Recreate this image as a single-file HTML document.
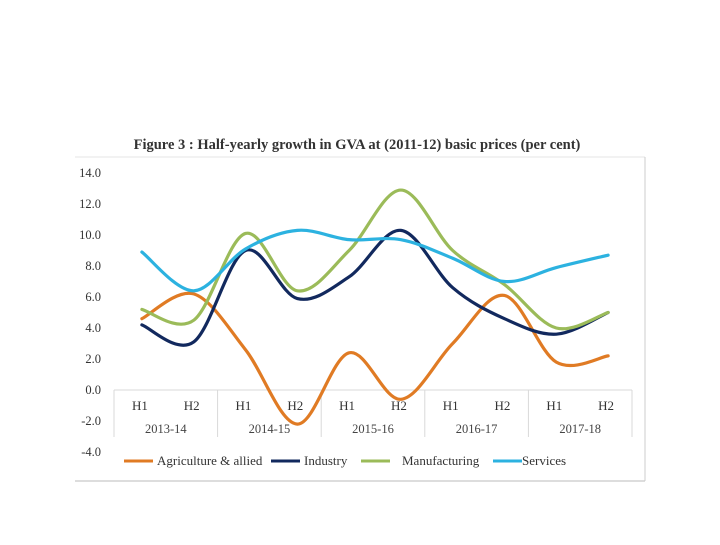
<!DOCTYPE html>
<html><head><meta charset="utf-8"><style>
body{margin:0;background:#fff;width:720px;height:540px;overflow:hidden}
svg{font-family:"Liberation Serif",serif}
</style></head><body>
<svg width="720" height="540">
<text x="357" y="149" text-anchor="middle" font-size="14.5" font-weight="bold" fill="#333">Figure 3 : Half-yearly growth in GVA at (2011-12) basic prices (per cent)</text>
<line x1="75" y1="157" x2="645" y2="157" stroke="#e4e4e4"/>
<line x1="75" y1="481" x2="645" y2="481" stroke="#bbb"/>
<line x1="645" y1="157" x2="645" y2="481" stroke="#ccc"/>
<g id="axes"></g><g id="series"></g><g id="legend"></g>
</svg>
<script>
const years=["2013-14","2014-15","2015-16","2016-17","2017-18"];
const halves=["H1","H2"];
const yTicks=[14,12,10,8,6,4,2,0,-2,-4];
const agri=[4.6,6.2,2.6,-2.2,2.4,-0.6,3.0,6.1,1.8,2.2];
const industry=[4.2,3.1,9.0,5.9,7.3,10.3,6.6,4.6,3.6,5.0];
const manuf=[5.2,4.5,10.1,6.4,9.0,12.9,9.0,6.8,4.0,5.0];
const services=[8.9,6.4,9.1,10.3,9.7,9.7,8.5,7.0,7.9,8.7];
const seriesNames=["Agriculture & allied","Industry","Manufacturing","Services"];
const ns="http://www.w3.org/2000/svg";
const y=v=>390-v*15.5;
const x0=114,cw=51.8;
const x=i=>x0+cw*(i+0.5)+2;
function mk(t,a,p){const e=document.createElementNS(ns,t);for(const k in a)e.setAttribute(k,a[k]);p.appendChild(e);return e;}
const ax=document.getElementById('axes');
yTicks.forEach(v=>{const t=mk('text',{x:101,y:y(v)+4,'text-anchor':'end','font-size':12.5,fill:'#333'},ax);t.textContent=v.toFixed(1);

});
const hl=mk('line',{x1:x0,y1:y(0),x2:x0+cw*10,y2:y(0),stroke:'#d9d9d9'},ax);


for(let g=0;g<=years.length;g++){const l=mk('line',{x1:x0+cw*2*g,y1:y(0),x2:x0+cw*2*g,y2:437,stroke:'#d9d9d9'},ax);

}
years.forEach((yr,g)=>{halves.forEach((h,k)=>{const t=mk('text',{x:x0+cw*(2*g+k+0.5),y:410,'text-anchor':'middle','font-size':13,fill:'#333'},ax);t.textContent=h;

});
const t=mk('text',{x:x0+cw*(2*g+1),y:433,'text-anchor':'middle','font-size':12.5,fill:'#444'},ax);t.textContent=yr;

});
function smooth(vals){const p=vals.map((v,i)=>[x(i),y(v)]);let d=`M${p[0][0]},${p[0][1]}`;
for(let i=0;i<p.length-1;i++){const a=p[Math.max(0,i-1)],b=p[i],c=p[i+1],e=p[Math.min(p.length-1,i+2)];const s=1/6;
d+=` C${b[0]+(c[0]-a[0])*s},${b[1]+(c[1]-a[1])*s} ${c[0]-(e[0]-b[0])*s},${c[1]-(e[1]-b[1])*s} ${c[0]},${c[1]}`;}return d;}
const sg=document.getElementById('series');
const data=[agri,industry,manuf,services],cols=["#e07b24","#12295e","#9bbb59","#2cb2e0"],keys=["agriculture","industry","manufacturing","services"];
data.forEach((vals,j)=>{const p=mk('path',{d:smooth(vals),fill:'none',stroke:cols[j],'stroke-width':3.2,'stroke-linecap':'round'},sg);

});
const lg=document.getElementById('legend');
const lx=[124,271,361,493],tx=[157,304,402,522];
seriesNames.forEach((n,j)=>{const l=mk('line',{x1:lx[j],y1:461,x2:lx[j]+29,y2:461,stroke:cols[j],'stroke-width':3},lg);


const t=mk('text',{x:tx[j],y:465,'font-size':13,fill:'#333'},lg);t.textContent=n;

});
</script>
</body></html>
